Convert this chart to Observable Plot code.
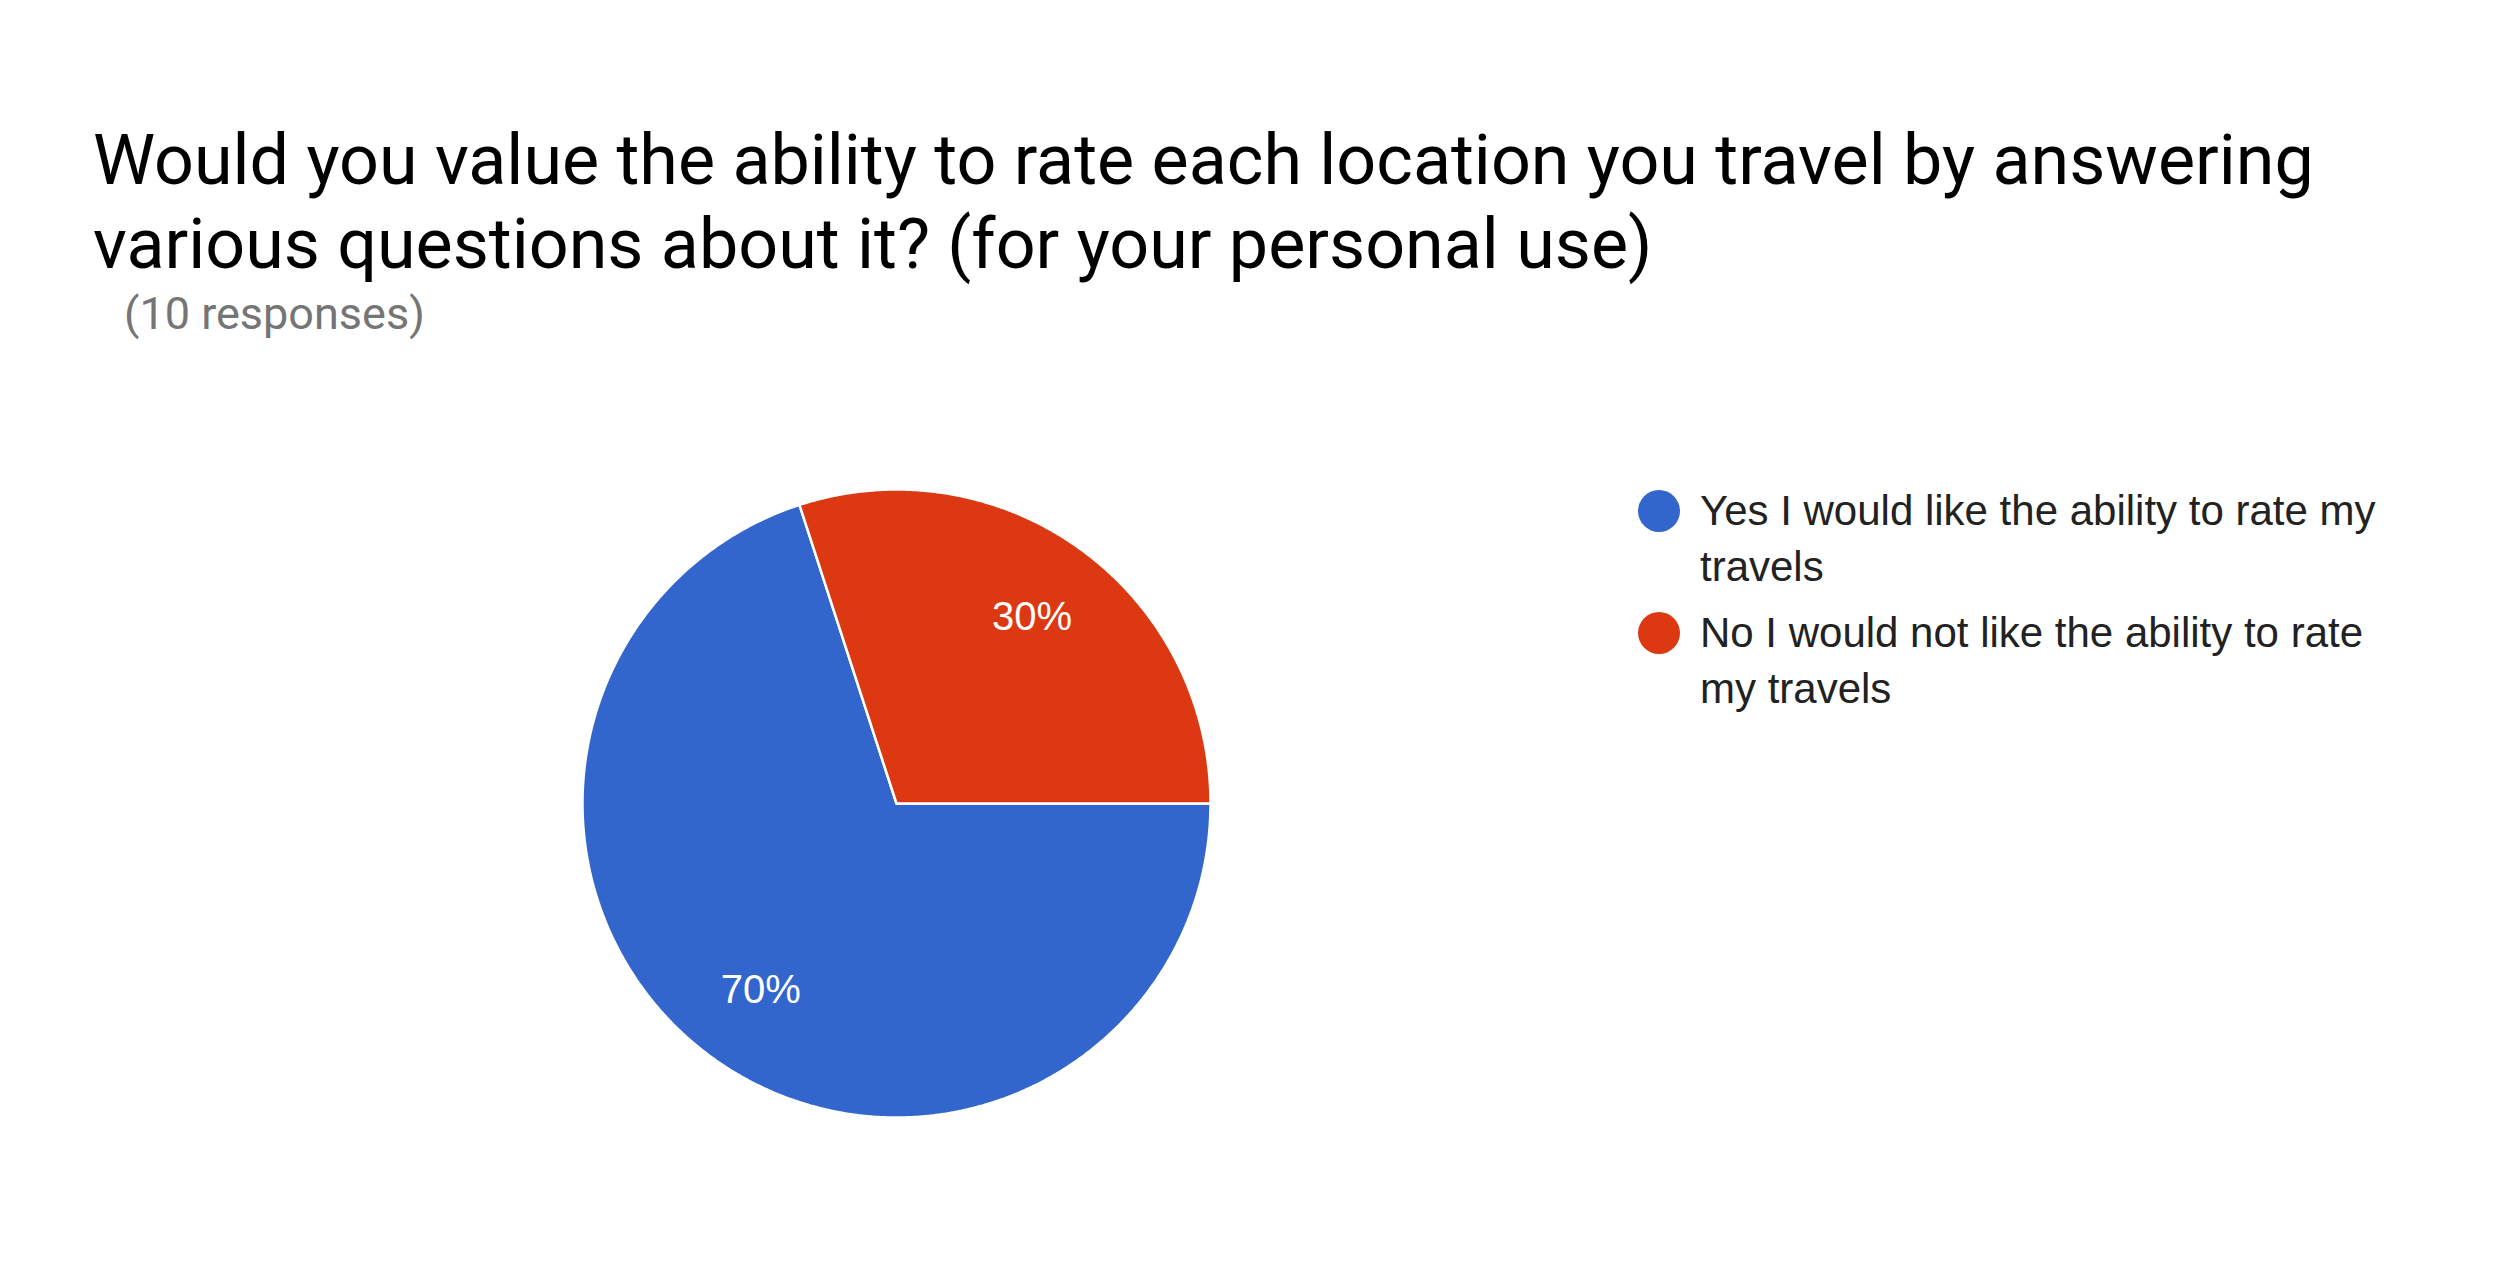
<!DOCTYPE html>
<html>
<head>
<meta charset="utf-8">
<script src="https://cdn.jsdelivr.net/npm/d3@7"></script>
<script src="https://cdn.jsdelivr.net/npm/@observablehq/plot@0.6"></script>
<style>
  html, body { margin: 0; padding: 0; background: #fff; }
  #page { position: relative; width: 2514px; height: 1286px; overflow: hidden; }
  #header { height: 340px; box-sizing: border-box; padding-top: 118px; }
  #title { font-family: Roboto, sans-serif; font-size: 70px; line-height: 84px; color: #000; margin-left: 93px; white-space: nowrap; }
  #subtitle { font-family: Roboto, sans-serif; font-size: 45px; line-height: 50px; color: #757575; margin-left: 124px; margin-top: 3px; }
  #legend { position: absolute; left: 1638px; top: 483px; font-family: "Liberation Sans", Arial, sans-serif; font-size: 42px; color: #222; }
  .item { display: flex; align-items: flex-start; margin-bottom: 10px; }
  .sw { width: 42px; height: 42px; border-radius: 50%; margin-top: 7px; margin-right: 20px; flex: none; }
  .lab { width: 702px; line-height: 56px; }
</style>
</head>
<body>
<div id="page">
  <div id="header">
    <div id="title">Would you value the ability to rate each location you travel by answering<br>various questions about it? (for your personal use)</div>
    <div id="subtitle">(10 responses)</div>
  </div>
  <div id="chart"></div>
  <div id="legend"></div>
</div>
<script>
const categories = ["Yes I would like the ability to rate my travels", "No I would not like the ability to rate my travels"];
const counts = [7, 3];
const colors = ["#3366cc", "#dc3912"];
const total = d3.sum(counts);
const percentLabels = counts.map(c => Math.round(c / total * 100) + "%");

const pie = d3.pie().sort(null).value(d => d.count).startAngle(Math.PI / 2).endAngle(Math.PI / 2 + 2 * Math.PI);
const arcs = pie(categories.map((name, i) => ({name, count: counts[i], label: percentLabels[i]})));

// polygon vertices of each wedge (unit radius), derived from the data angles
const wedgePoints = [];
for (const a of arcs) {
  wedgePoints.push({name: a.data.name, x: 0, y: 0});
  const n = Math.max(2, Math.ceil((a.endAngle - a.startAngle) / (Math.PI / 360)));
  for (let k = 0; k <= n; k++) {
    const t = a.startAngle + (a.endAngle - a.startAngle) * k / n;
    wedgePoints.push({name: a.data.name, x: Math.sin(t), y: Math.cos(t)});
  }
  wedgePoints.push({name: a.data.name, x: 0, y: 0});
}
const labelPoints = arcs.map(a => {
  const m = (a.startAngle + a.endAngle) / 2;
  return {label: a.data.label, x: 0.735 * Math.sin(m), y: 0.735 * Math.cos(m)};
});

const W = 2514, H = 946, cx = 896, cy = 463, R = 314;
const chart = Plot.plot({
  width: W,
  height: H,
  margin: 0,
  x: {domain: [-1, 1], range: [cx - R, cx + R], axis: null},
  y: {domain: [-1, 1], range: [cy + R, cy - R], axis: null},
  color: {domain: categories, range: colors},
  marks: [
    Plot.line(wedgePoints, {x: "x", y: "y", z: "name", fill: "name", stroke: "white", strokeWidth: 2.5, strokeLinejoin: "miter"}),
    Plot.text(labelPoints, {x: "x", y: "y", text: "label", fill: "white", fontSize: 40, fontFamily: "Liberation Sans, Arial, sans-serif"})
  ]
});
document.getElementById("chart").appendChild(chart);

const legend = document.getElementById("legend");
categories.forEach((c, i) => {
  const item = document.createElement("div");
  item.className = "item";
  const sw = document.createElement("div");
  sw.className = "sw";
  sw.style.background = colors[i];
  const lab = document.createElement("div");
  lab.className = "lab";
  lab.textContent = c;
  item.appendChild(sw);
  item.appendChild(lab);
  legend.appendChild(item);
});
</script>
</body>
</html>
